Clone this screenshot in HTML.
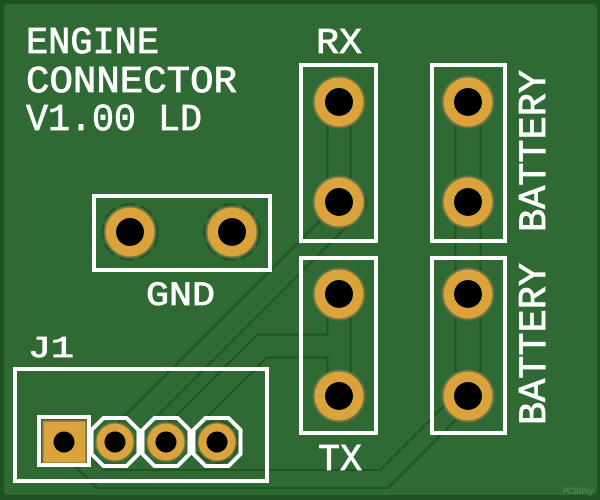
<!DOCTYPE html>
<html><head><meta charset="utf-8"><style>
html,body{margin:0;padding:0;background:#1f5123;}
svg{display:block;}
</style></head><body>
<svg width="600" height="500" viewBox="0 0 600 500" xmlns="http://www.w3.org/2000/svg">
<rect x="0" y="0" width="600" height="500" fill="#1f5123"/>
<rect x="4" y="4" width="593" height="491" rx="4" fill="#2f6934"/>

<!-- trace clearance outlines (dark), then fill -->
<g fill="none" stroke="#1f5426" stroke-linejoin="miter" stroke-linecap="round">
  <polyline points="115,442 355,202" stroke-width="25"/>
  <polyline points="339,102 339,202" stroke-width="25"/>
  <polyline points="166,442 262,346 339,346" stroke-width="25"/>
  <polyline points="339,294 339,396" stroke-width="25"/>
  <polyline points="468,102 468,396" stroke-width="27"/>
  <polyline points="64,442 101,479 384,479 468,395" stroke-width="20"/>
</g>
<g fill="none" stroke="#2f6934" stroke-linejoin="miter" stroke-linecap="round">
  <polyline points="115,442 355,202" stroke-width="21"/>
  <polyline points="339,102 339,202" stroke-width="21"/>
  <polyline points="166,442 262,346 339,346" stroke-width="21"/>
  <polyline points="339,294 339,396" stroke-width="21"/>
  <polyline points="468,102 468,396" stroke-width="23"/>
  <polyline points="64,442 101,479 384,479 468,395" stroke-width="16"/>
</g>

<!-- thermal rings -->
<g fill="none" stroke="#1f5426" stroke-width="2.5" stroke-dasharray="14 6">
  <circle cx="130" cy="232" r="27.5"/>
  <circle cx="232" cy="232" r="27.5"/>
  <circle cx="217" cy="442" r="20.5"/>
</g>

<!-- large pads -->
<g>
  <g fill="#6b7342">
    <circle cx="339" cy="102" r="26.5"/><circle cx="339" cy="202" r="26.5"/>
    <circle cx="468" cy="102" r="26.5"/><circle cx="468" cy="202" r="26.5"/>
    <circle cx="339" cy="294" r="26.5"/><circle cx="339" cy="396" r="26.5"/>
    <circle cx="468" cy="294" r="26.5"/><circle cx="468" cy="396" r="26.5"/>
    <circle cx="130" cy="232" r="26.5"/><circle cx="232" cy="232" r="26.5"/>
  </g>
  <g fill="#dba33b">
    <circle cx="339" cy="102" r="24.5"/><circle cx="339" cy="202" r="24.5"/>
    <circle cx="468" cy="102" r="24.5"/><circle cx="468" cy="202" r="24.5"/>
    <circle cx="339" cy="294" r="24.5"/><circle cx="339" cy="396" r="24.5"/>
    <circle cx="468" cy="294" r="24.5"/><circle cx="468" cy="396" r="24.5"/>
    <circle cx="130" cy="232" r="24.5"/><circle cx="232" cy="232" r="24.5"/>
  </g>
  <g fill="#000">
    <circle cx="339" cy="102" r="14"/><circle cx="339" cy="202" r="14"/>
    <circle cx="468" cy="102" r="14"/><circle cx="468" cy="202" r="14"/>
    <circle cx="339" cy="294" r="14"/><circle cx="339" cy="396" r="14"/>
    <circle cx="468" cy="294" r="14"/><circle cx="468" cy="396" r="14"/>
    <circle cx="130" cy="232" r="14"/><circle cx="232" cy="232" r="14"/>
  </g>
</g>

<!-- J1 pads -->
<rect x="42" y="420" width="45" height="44" fill="#6b7342"/>
<rect x="43.5" y="421.5" width="42" height="41" fill="#dba33b"/>
<g fill="#6b7342">
  <circle cx="115" cy="442" r="20"/><circle cx="166" cy="442" r="20"/><circle cx="217" cy="442" r="20"/>
</g>
<g fill="#dba33b">
  <circle cx="115" cy="442" r="18.5"/><circle cx="166" cy="442" r="18.5"/><circle cx="217" cy="442" r="18.5"/>
</g>
<g fill="#000">
  <circle cx="64" cy="442" r="10.5"/>
  <circle cx="115" cy="442" r="10.5"/><circle cx="166" cy="442" r="10.5"/><circle cx="217" cy="442" r="10.5"/>
</g>

<!-- silkscreen outlines -->
<g fill="none" stroke="#ffffff" stroke-width="4">
  <rect x="301" y="65" width="75" height="176"/>
  <rect x="301" y="258" width="75" height="175"/>
  <rect x="432" y="65" width="73" height="176"/>
  <rect x="432" y="258" width="73" height="175"/>
  <rect x="94" y="196" width="176" height="74"/>
  <rect x="15" y="369" width="252" height="112"/>
  <rect x="39" y="417" width="50" height="48"/>
  <polygon points="103.5,418 126.5,418 138.5,430 138.5,454 126.5,466 103.5,466 91.5,454 91.5,430"/>
  <polygon points="154.5,418 177.5,418 189.5,430 189.5,454 177.5,466 154.5,466 142.5,454 142.5,430"/>
  <polygon points="205.5,418 228.5,418 240.5,430 240.5,454 228.5,466 205.5,466 193.5,454 193.5,430"/>
</g>

<!-- silkscreen text -->
<g fill="#ffffff" stroke="#ffffff" stroke-width="0.8" font-family="'Liberation Mono','DejaVu Sans Mono',monospace">
  <text x="26" y="53" font-size="38" textLength="133" lengthAdjust="spacingAndGlyphs">ENGINE</text>
  <text x="26" y="92" font-size="38" textLength="211" lengthAdjust="spacingAndGlyphs">CONNECTOR</text>
  <text x="26" y="130" font-size="38" textLength="176" lengthAdjust="spacingAndGlyphs">V1.00 LD</text>
  <text x="316" y="53" font-size="36" textLength="46" lengthAdjust="spacingAndGlyphs">RX</text>
  <text x="318" y="470" font-size="38" textLength="44" lengthAdjust="spacingAndGlyphs">TX</text>
  <text x="146" y="305" font-size="34" textLength="69" lengthAdjust="spacingAndGlyphs">GND</text>
  <text x="28" y="357" font-size="31" textLength="46" lengthAdjust="spacingAndGlyphs">J1</text>
  <text transform="translate(545,230) rotate(-90)" x="-2" y="0" font-size="39" textLength="162" lengthAdjust="spacingAndGlyphs">BATTERY</text>
  <text transform="translate(545,423) rotate(-90)" x="-2" y="0" font-size="39" textLength="162" lengthAdjust="spacingAndGlyphs">BATTERY</text>
</g>

<text x="563" y="494" font-size="9" font-style="italic" fill="#5e8f5f" font-family="'Liberation Sans',sans-serif" textLength="30" lengthAdjust="spacingAndGlyphs">PCBWay</text>
</svg>
</body></html>
